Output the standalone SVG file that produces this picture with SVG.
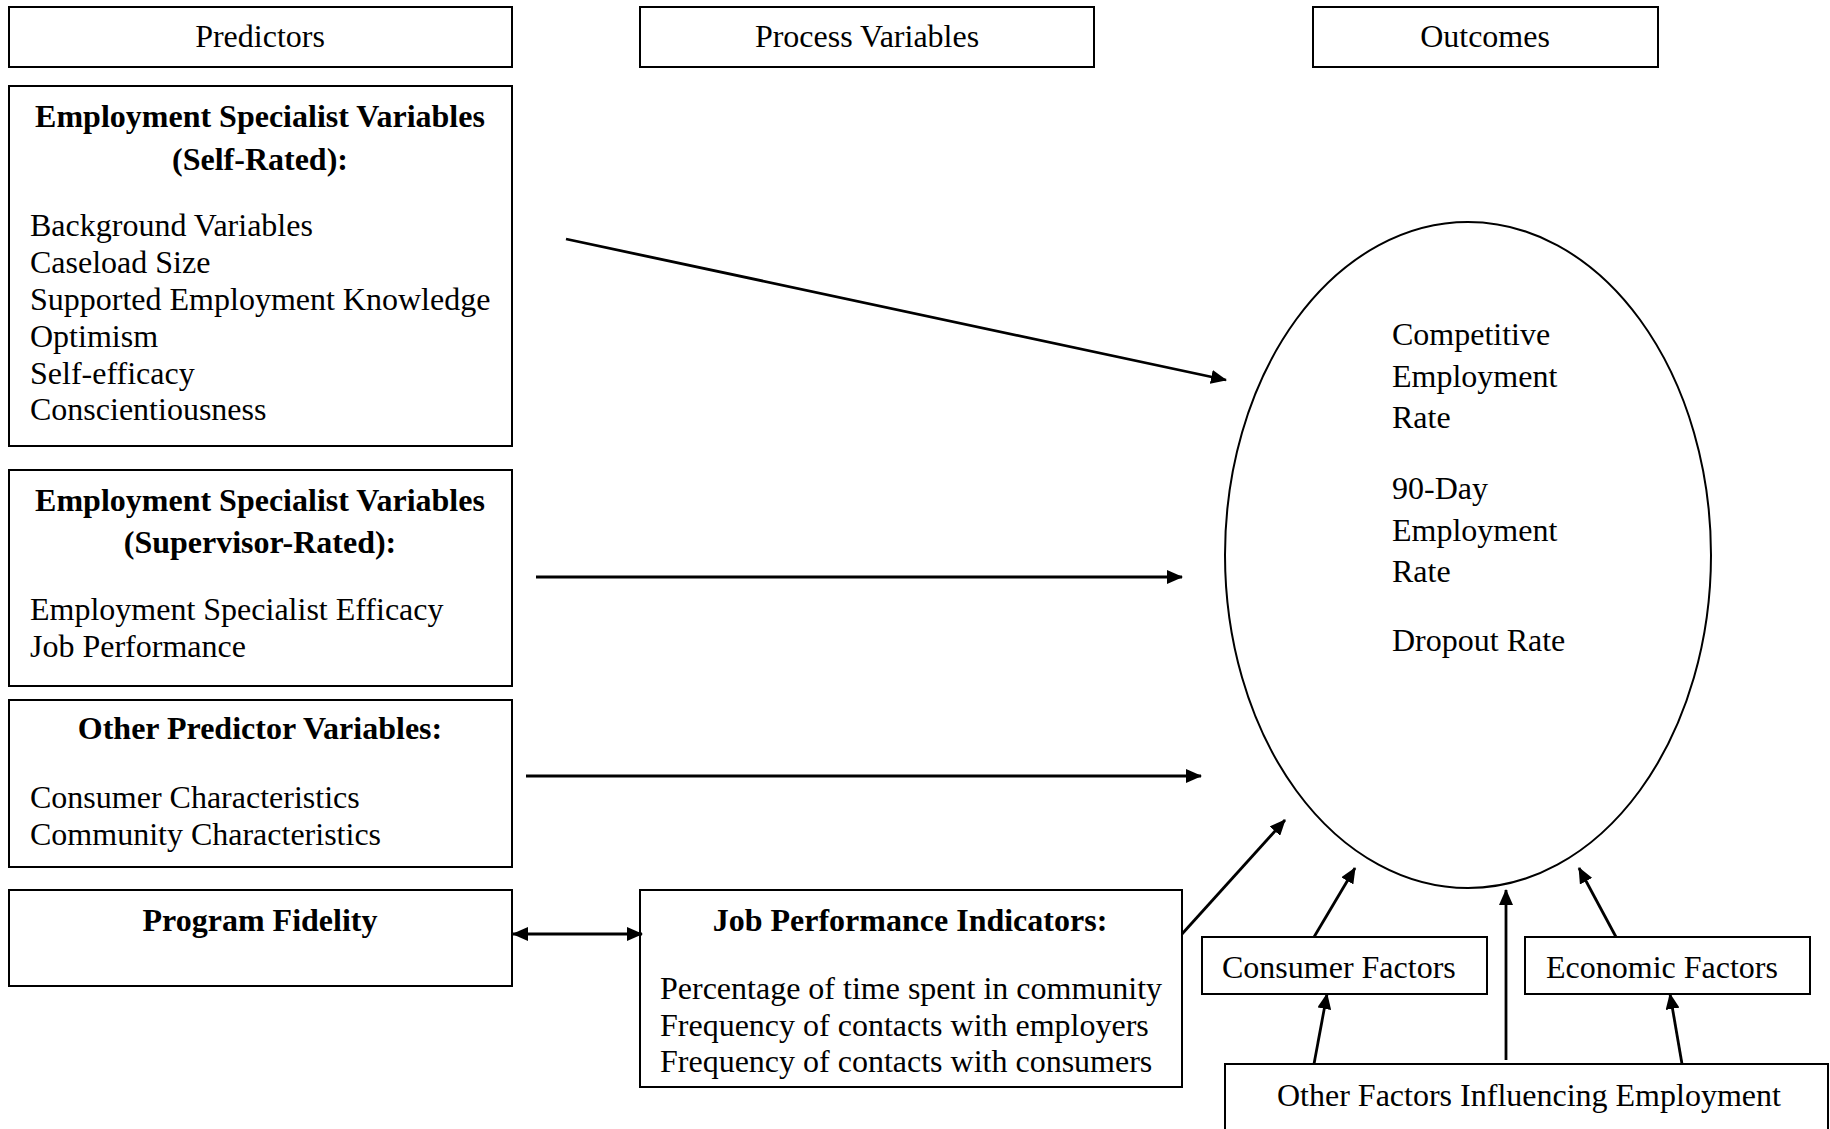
<svg xmlns="http://www.w3.org/2000/svg" width="1830" height="1129" viewBox="0 0 1830 1129">
<defs>
<marker id="ah" viewBox="0 0 16 14" markerUnits="userSpaceOnUse" markerWidth="16" markerHeight="14" refX="15" refY="7" orient="auto-start-reverse">
<path d="M0,0 L16,7 L0,14 z" fill="#000"/>
</marker>
</defs>
<style>
.box{fill:#fff;stroke:#000;stroke-width:2}
.t{font-family:"Liberation Serif","Times New Roman",serif;font-size:32px;fill:#000}
.b{font-weight:bold}
.c{text-anchor:middle}
.con{stroke:#000;stroke-width:2.8;fill:none;marker-end:url(#ah)}
</style>
<rect width="1830" height="1129" fill="#fff"/>
<g id="predictors-header">
<rect class="box" x="9" y="7" width="503" height="60"/>
<text class="t c" x="260" y="47">Predictors</text>
</g>
<g id="process-header">
<rect class="box" x="640" y="7" width="454" height="60"/>
<text class="t c" x="867" y="47">Process Variables</text>
</g>
<g id="outcomes-header">
<rect class="box" x="1313" y="7" width="345" height="60"/>
<text class="t c" x="1485" y="47">Outcomes</text>
</g>
<g id="self-rated">
<rect class="box" x="9" y="86" width="503" height="360"/>
<text class="t b c" x="260" y="127">Employment Specialist Variables</text>
<text class="t b c" x="260" y="170">(Self-Rated):</text>
<text class="t" x="30" y="236">Background Variables</text>
<text class="t" x="30" y="273">Caseload Size</text>
<text class="t" x="30" y="310">Supported Employment Knowledge</text>
<text class="t" x="30" y="347">Optimism</text>
<text class="t" x="30" y="384">Self-efficacy</text>
<text class="t" x="30" y="420">Conscientiousness</text>
</g>
<g id="supervisor-rated">
<rect class="box" x="9" y="470" width="503" height="216"/>
<text class="t b c" x="260" y="511">Employment Specialist Variables</text>
<text class="t b c" x="260" y="553">(Supervisor-Rated):</text>
<text class="t" x="30" y="620">Employment Specialist Efficacy</text>
<text class="t" x="30" y="657">Job Performance</text>
</g>
<g id="other-predictors">
<rect class="box" x="9" y="700" width="503" height="167"/>
<text class="t b c" x="260" y="739">Other Predictor Variables:</text>
<text class="t" x="30" y="808">Consumer Characteristics</text>
<text class="t" x="30" y="845">Community Characteristics</text>
</g>
<g id="program-fidelity">
<rect class="box" x="9" y="890" width="503" height="96"/>
<text class="t b c" x="260" y="931">Program Fidelity</text>
</g>
<g id="job-performance">
<rect class="box" x="640" y="890" width="542" height="197"/>
<text class="t b c" x="910" y="931">Job Performance Indicators:</text>
<text class="t" x="660" y="999">Percentage of time spent in community</text>
<text class="t" x="660" y="1036">Frequency of contacts with employers</text>
<text class="t" x="660" y="1072">Frequency of contacts with consumers</text>
</g>
<g id="outcomes">
<ellipse cx="1468" cy="555" rx="243" ry="333" fill="#fff" stroke="#000" stroke-width="2"/>
<text class="t" x="1392" y="345">Competitive</text>
<text class="t" x="1392" y="387">Employment</text>
<text class="t" x="1392" y="428">Rate</text>
<text class="t" x="1392" y="499">90-Day</text>
<text class="t" x="1392" y="541">Employment</text>
<text class="t" x="1392" y="582">Rate</text>
<text class="t" x="1392" y="651">Dropout Rate</text>
</g>
<g id="consumer-factors">
<rect class="box" x="1202" y="937" width="285" height="57"/>
<text class="t" x="1222" y="978">Consumer Factors</text>
</g>
<g id="economic-factors">
<rect class="box" x="1525" y="937" width="285" height="57"/>
<text class="t" x="1546" y="978">Economic Factors</text>
</g>
<g id="other-factors">
<rect class="box" x="1225" y="1064" width="603" height="80"/>
<text class="t" x="1277" y="1106">Other Factors Influencing Employment</text>
</g>
<g id="connectors">
<line class="con" x1="566" y1="239" x2="1226" y2="380"/>
<line class="con" x1="536" y1="577" x2="1182" y2="577"/>
<line class="con" x1="526" y1="776" x2="1201" y2="776"/>
<line class="con" x1="513" y1="934" x2="642" y2="934" style="marker-start:url(#ah)"/>
<line class="con" x1="1182" y1="934" x2="1285" y2="820"/>
<line class="con" x1="1314" y1="937" x2="1355" y2="868"/>
<line class="con" x1="1506" y1="1060" x2="1506" y2="890"/>
<line class="con" x1="1616" y1="937" x2="1579" y2="868"/>
<line class="con" x1="1314" y1="1064" x2="1327" y2="994"/>
<line class="con" x1="1682" y1="1064" x2="1670" y2="994"/>
</g>
</svg>
